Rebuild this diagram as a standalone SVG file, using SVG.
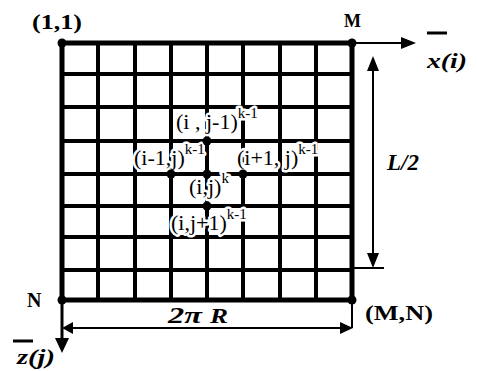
<svg xmlns="http://www.w3.org/2000/svg" width="477" height="371" viewBox="0 0 477 371">
<defs>
<style>
.grid{stroke:#000;stroke-width:4;fill:none;stroke-linecap:square}
.border{stroke:#000;stroke-width:5;fill:none}
.thin{stroke:#000;stroke-width:2;fill:none}
.ah{fill:#000}
.dot{fill:#000}
.lbl{font-family:"Liberation Serif",serif;font-size:22px;fill:#000;stroke:#fff;stroke-width:5;paint-order:stroke;stroke-linejoin:round}
.sup{font-size:15px}
.b{font-family:"Liberation Serif",serif;font-weight:bold;fill:#000}
.bi{font-family:"Liberation Serif",serif;font-weight:bold;font-style:italic;fill:#000}
</style>
</defs>
<rect width="477" height="371" fill="#fff"/>
<g id="grid">
<path class="grid" d="M98,43V300M135,43V300M171,43V300M207,43V300M243,43V300M280,43V300M316,43V300"/>
<path class="grid" d="M62,74H352M62,107H352M62,141H352M62,174H352M62,206H352M62,237H352M62,270H352"/>
<rect class="border" x="62" y="43" width="290" height="257"/>
</g>
<g id="connectors">
<line class="thin" x1="352" y1="43" x2="402" y2="43"/>
<polygon class="ah" points="416,43 401,37 401,49"/>
<line class="thin" x1="373" y1="68" x2="373" y2="256"/>
<polygon class="ah" points="373,56 367,71 379,71"/>
<polygon class="ah" points="373,268 367,253 379,253"/>
<line class="thin" x1="352" y1="268" x2="384" y2="268"/>
<line class="grid" x1="62" y1="300" x2="62" y2="340" style="stroke-width:3"/>
<polygon class="ah" points="62,353 55,338 69,338"/>
<line class="thin" x1="70" y1="328" x2="342" y2="328"/>
<polygon class="ah" points="62,328 73,322 73,334"/>
<polygon class="ah" points="353,328 340,322 340,334"/>
<line class="thin" x1="352" y1="300" x2="352" y2="328"/>
</g>
<g id="labels-center">
<text class="lbl" x="176" y="129">(i , j-1)<tspan class="sup" dy="-11">k-1</tspan></text>
<text class="lbl" x="134" y="165">(i-1,j)<tspan class="sup" dy="-11">k-1</tspan></text>
<text class="lbl" x="237" y="165">(i+1, j)<tspan class="sup" dy="-11">k-1</tspan></text>
<text class="lbl" x="189" y="194">(i,j)<tspan class="sup" dy="-11">k</tspan></text>
<text class="lbl" x="171" y="230">(i,j+1)<tspan class="sup" dy="-11">k-1</tspan></text>
</g>
<g id="dots">
<circle class="dot" cx="62" cy="43" r="4.5"/>
<circle class="dot" cx="352" cy="43" r="4.5"/>
<circle class="dot" cx="62" cy="300" r="4.5"/>
<circle class="dot" cx="352" cy="300" r="4.5"/>
<circle class="dot" cx="207" cy="141" r="4.5"/>
<circle class="dot" cx="171" cy="174" r="4.5"/>
<circle class="dot" cx="207" cy="174" r="4.5"/>
<circle class="dot" cx="243" cy="174" r="4.5"/>
<circle class="dot" cx="207" cy="206" r="4.5"/>
</g>
<g id="node-11"><text class="b" x="32" y="29" font-size="21" textLength="50" lengthAdjust="spacingAndGlyphs">(1,1)</text></g>
<g id="node-M"><text class="b" x="344" y="27" font-size="18">M</text></g>
<g id="node-N"><text class="b" x="27" y="307" font-size="20">N</text></g>
<g id="node-MN"><text class="b" x="365" y="320" font-size="22" textLength="68" lengthAdjust="spacingAndGlyphs">(M,N)</text></g>
<g id="axis-x">
<line x1="427" y1="33" x2="447" y2="33" stroke="#000" stroke-width="3"/>
<text class="bi" x="427" y="68" font-size="22" textLength="40" lengthAdjust="spacingAndGlyphs">x(i)</text>
</g>
<g id="axis-z">
<line x1="13" y1="341" x2="33" y2="341" stroke="#000" stroke-width="3"/>
<text class="bi" x="17" y="364" font-size="22" textLength="38" lengthAdjust="spacingAndGlyphs">z(j)</text>
</g>
<g id="dim-L"><text class="bi" x="387" y="170" font-size="23">L/2</text></g>
<g id="dim-2piR"><text class="bi" x="168" y="323" font-size="24" textLength="60" lengthAdjust="spacingAndGlyphs">2π <tspan font-size="20">R</tspan></text></g>
</svg>
